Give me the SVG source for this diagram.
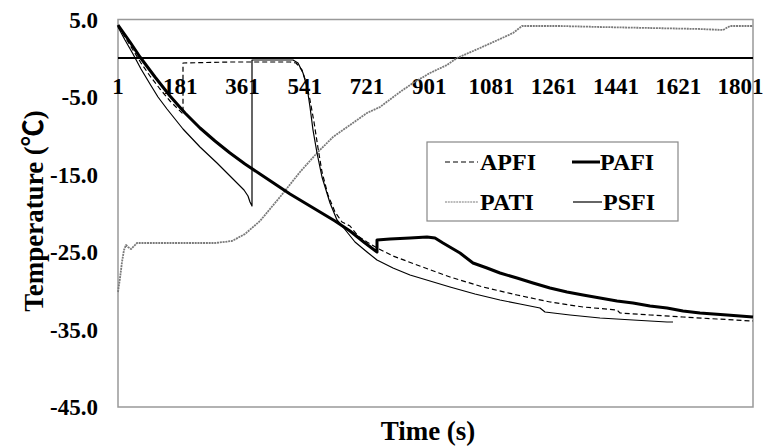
<svg xmlns="http://www.w3.org/2000/svg" width="766" height="448" viewBox="0 0 766 448" font-family="Liberation Serif, DejaVu Serif, Times New Roman, serif">
<style>
text{font-weight:700;fill:#000}
.tk{font-size:23px}
.yt{text-anchor:end}
.xt{text-anchor:middle}
.lg{font-size:24px}
.ttl{font-size:27px;text-anchor:middle}
.c{fill:none;stroke-linejoin:round;stroke-linecap:butt}
.pafi{stroke:#000;stroke-width:3}
.apfi{stroke:#000;stroke-width:1.2;stroke-dasharray:5 3}
.psfi{stroke:#000;stroke-width:1.2}
.pati{stroke:#7a7a7a;stroke-width:1.8;stroke-dasharray:2 0.8}
</style>
<rect width="766" height="448" fill="#fff"/>
<g id="plot-frame">
<rect x="118" y="19.5" width="635" height="387.5" fill="#fff" stroke="#999" stroke-width="1.5"/>
<line x1="118" y1="58" x2="753" y2="58" stroke="#000" stroke-width="2"/>
</g>
<g id="y-axis-labels" font-family="Liberation Serif, serif">
<text class="tk yt" x="98" y="27.5">5.0</text>
<text class="tk yt" x="98" y="105">-5.0</text>
<text class="tk yt" x="98" y="182.5">-15.0</text>
<text class="tk yt" x="98" y="260">-25.0</text>
<text class="tk yt" x="98" y="337.5">-35.0</text>
<text class="tk yt" x="98" y="415">-45.0</text>
</g>
<g id="x-axis-labels" font-family="Liberation Serif, serif">
<text class="tk xt" x="118" y="94">1</text>
<text class="tk xt" x="180.3" y="94">181</text>
<text class="tk xt" x="242.5" y="94">361</text>
<text class="tk xt" x="304.8" y="94">541</text>
<text class="tk xt" x="367" y="94">721</text>
<text class="tk xt" x="429.3" y="94">901</text>
<text class="tk xt" x="491.5" y="94">1081</text>
<text class="tk xt" x="553.8" y="94">1261</text>
<text class="tk xt" x="616" y="94">1441</text>
<text class="tk xt" x="678.3" y="94">1621</text>
<text class="tk xt" x="740.5" y="94">1801</text>
</g>
<g id="axis-titles" font-family="Liberation Serif, Noto Sans CJK SC, serif">
<text class="ttl" transform="translate(43,211) rotate(-90)">Temperature (℃)</text>
<text class="ttl" x="428" y="440">Time (s)</text>
</g>
<g id="connectors">
<polyline id="pati" class="c pati" points="118,292 120,278 122,262 124,250 126,245 128,247 131,249 134,246 137,243 160,243 190,243 215,243 232,241 245,234 260,221 280,197 300,172 317,153 333,137 367,113 380,107 400,92 413,83 430,73 447,65 457,58 480,48 500,39 513,33 522,26 560,26 600,27 650,28 700,29 723,30 730,26 753,26"/>
<polyline id="psfi" class="c psfi" points="118,27 125,40 133,54 141,69 150,84 158,97 167,109 175,119 183,129 200,147 217,163 233,179 244,190 248,196 250,202 252,206 252,60 293,60 298,63 303,73 307,87 310,107 313,130 317,153 322,177 330,203 337,220 343,227 355,242 367,252 377,260 393,268 410,275 430,281 450,287 475,294 500,300 520,304 540,308 545,312 570,315 600,318 633,320 667,322 673,322"/>
<polyline id="apfi" class="c apfi" points="118,26 125,37 133,50 141,63 150,76 160,89 170,101 183,114 183,63 230,62 290,62 296,63 302,70 306,82 310,100 314,122 318,148 322,172 328,195 335,212 342,222 350,226 358,236 367,242 377,248 393,256 417,265 450,277 483,287 517,295 550,302 583,307 617,310 620,313 650,315 683,317 717,319 753,321"/>
<polyline id="pafi" class="c pafi" points="118,25 130,42 140,57 155,77 170,96 185,113 200,128 215,141 230,153 245,164 260,174 275,184 290,194 305,203 320,212 335,221 350,231 365,243 377,252 377,240 390,239 410,238 427,237 435,238 443,243 460,253 473,263 487,268 500,273 517,278 533,283 550,288 567,292 583,295 600,298 617,301 633,303 650,306 667,308 683,311 700,313 727,315 753,317"/>
</g>
<g id="legend" font-family="Liberation Serif, serif">
<rect x="427" y="142" width="251" height="79" fill="#fff" stroke="#888" stroke-width="1.2"/>
<line class="apfi" x1="445" y1="162" x2="478" y2="162"/>
<text class="lg" x="480" y="170">APFI</text>
<line class="pafi" x1="572" y1="162" x2="600" y2="162"/>
<text class="lg" x="600" y="170">PAFI</text>
<line class="pati" x1="445" y1="202" x2="478" y2="202" style="stroke-width:1.2"/>
<text class="lg" x="480" y="210">PATI</text>
<line class="psfi" x1="573" y1="202" x2="602" y2="202"/>
<text class="lg" x="603" y="210">PSFI</text>
</g>
</svg>
